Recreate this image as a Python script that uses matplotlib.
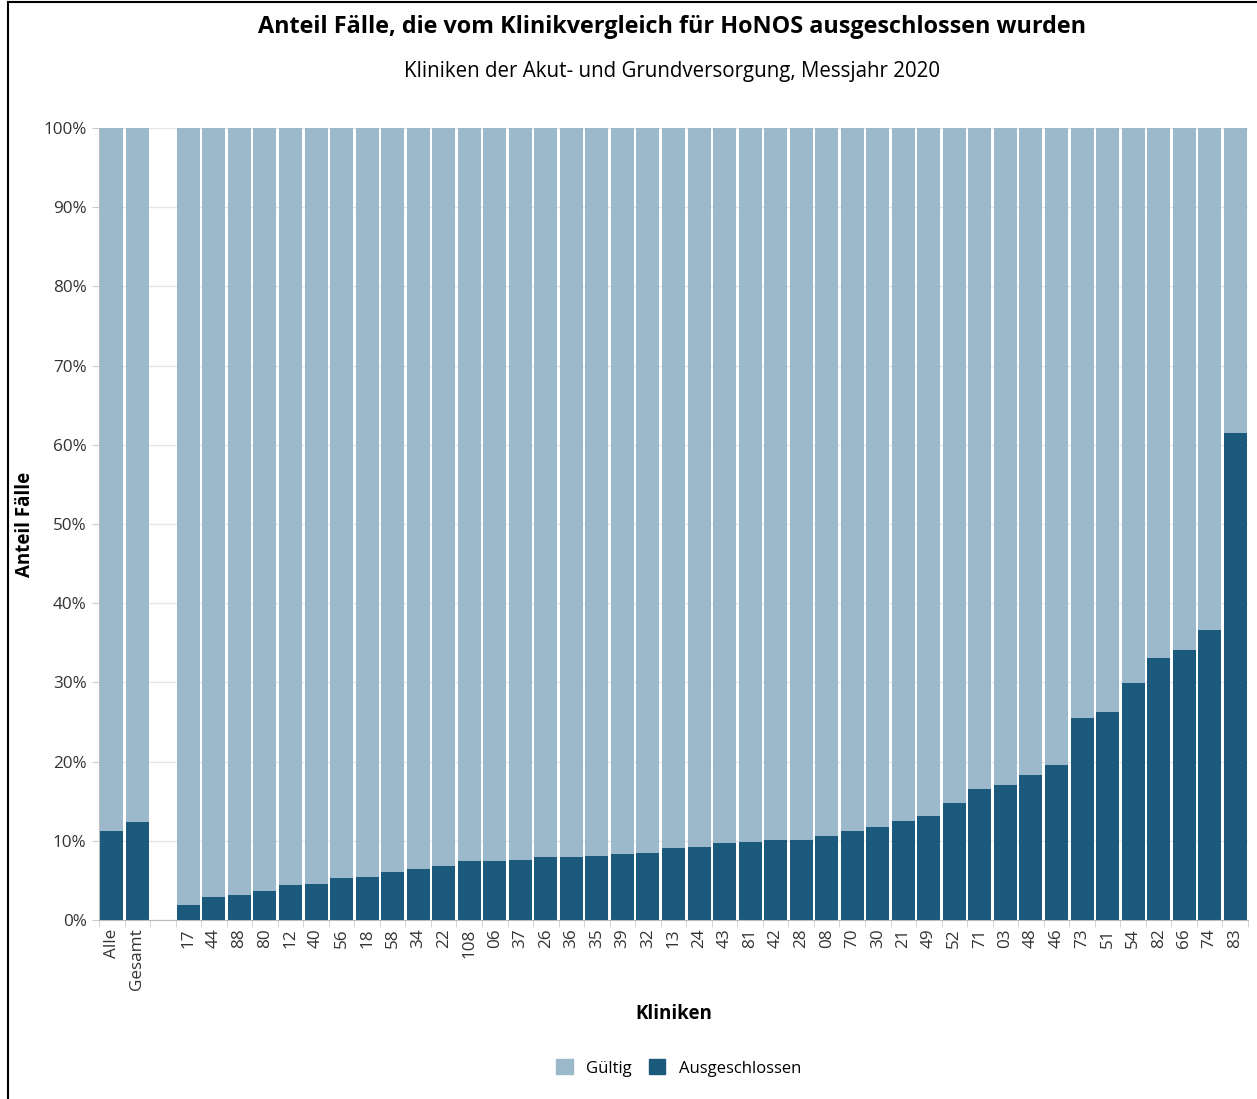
import matplotlib
matplotlib.use('Agg')
import matplotlib.pyplot as plt
from matplotlib.patches import Patch
from matplotlib.lines import Line2D
import numpy as np

plt.rcParams['font.family'] = ['Open Sans', 'DejaVu Sans']

# categories (empty string = spacer between summary and clinics)
kliniken = ['Alle', 'Gesamt', '',
            '17', '44', '88', '80', '12', '40', '56', '18', '58', '34', '22',
            '108', '06', '37', '26', '36', '35', '39', '32', '13', '24', '43',
            '81', '42', '28', '08', '70', '30', '21', '49', '52', '71', '03',
            '48', '46', '73', '51', '54', '82', '66', '74', '83']
# share of excluded cases in %
ausgeschlossen = [11.2, 12.4, np.nan,
                  1.9, 2.9, 3.2, 3.7, 4.4, 4.5, 5.3, 5.4, 6.1, 6.4, 6.8,
                  7.4, 7.4, 7.6, 8.0, 8.0, 8.1, 8.3, 8.5, 9.1, 9.2, 9.7,
                  9.8, 10.1, 10.1, 10.6, 11.2, 11.7, 12.5, 13.1, 14.8, 16.5, 17.0,
                  18.3, 19.6, 25.5, 26.3, 29.9, 33.1, 34.1, 36.6, 61.5]

aus = np.array(ausgeschlossen)
gueltig = 100 - aus
x = np.arange(len(kliniken))
c_light = '#9bb9ca'
c_dark = '#1b5a7d'

fig = plt.figure(figsize=(12.57, 10.99), dpi=100)
ax = fig.add_axes([99/1257, 1 - 920/1099, 1149/1257, 792/1099])

ax.bar(x, aus, width=0.9, color=c_dark, zorder=3)
ax.bar(x, gueltig, bottom=aus, width=0.9, color=c_light, zorder=3)

ax.set_xlim(-0.5, len(kliniken) - 0.5)
ax.set_ylim(0, 100)
ax.set_yticks(np.arange(0, 101, 10))
ax.set_yticklabels([f'{v}%' for v in range(0, 101, 10)], fontsize=12.3, color='#333333')
ax.yaxis.grid(True, color='#e6e6e6', lw=1, zorder=0)
ax.set_xticks(x)
ax.set_xticklabels(kliniken, rotation=90, fontsize=12.3, color='#333333')
ax.set_xticks(np.arange(-0.5, len(kliniken), 1), minor=True)
ax.tick_params(axis='x', which='major', length=0, pad=6)
ax.tick_params(axis='x', which='minor', length=5, color='#cccccc')
ax.tick_params(axis='y', length=5, color='#cccccc', pad=4)
for s in ['top', 'right']:
    ax.spines[s].set_visible(False)
for s in ['left', 'bottom']:
    ax.spines[s].set_color('#bbbbbb')

ax.set_ylabel('Anteil Fälle', fontsize=13.5, fontweight='bold', labelpad=6)
ax.set_xlabel('Kliniken', fontsize=13.5, fontweight='bold', labelpad=10)

fig.text(0.535, 1 - 27/1099, 'Anteil Fälle, die vom Klinikvergleich für HoNOS ausgeschlossen wurden',
         ha='center', va='center', fontsize=16.8, fontweight='bold')
fig.text(0.535, 1 - 71/1099, 'Kliniken der Akut- und Grundversorgung, Messjahr 2020',
         ha='center', va='center', fontsize=14.8)

handles = [Patch(color=c_light, label='Gültig'), Patch(color=c_dark, label='Ausgeschlossen')]
fig.legend(handles=handles, loc='center', bbox_to_anchor=(0.54, 1 - 1068/1099), ncol=2,
           frameon=False, fontsize=12, handlelength=1.0, handleheight=1.0, columnspacing=1.0,
           handletextpad=0.8)

# frame lines on left and top of the figure
fig.add_artist(Line2D([8/1257, 8/1257], [0, 1 - 2/1099], color='black', lw=1.5))
fig.add_artist(Line2D([8/1257, 1], [1 - 2/1099, 1 - 2/1099], color='black', lw=1.5))

fig.savefig('out.png', dpi=100)
